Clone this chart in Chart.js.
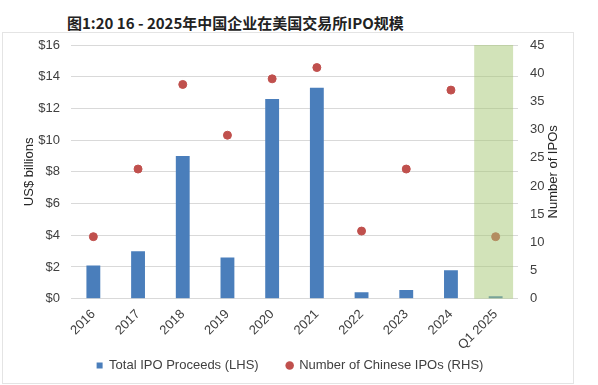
<!DOCTYPE html>
<html>
<head>
<meta charset="utf-8">
<script src="https://cdn.jsdelivr.net/npm/chart.js@4"></script>
<style>
  body { margin: 0; background: #fff; }
  #title { position: absolute; left: 67px; top: 12px; font: bold 15px "Noto Sans CJK SC", serif; color: #222; white-space: nowrap; }
  #frame { position: absolute; left: 2px; top: 32px; width: 570px; height: 350px; border: 1px solid #e4e4e4; }
  #myChart { position: absolute; left: 0; top: 0; }
</style>
</head>
<body>
<div id="title">图1:20 16 - 2025年中国企业在美国交易所IPO规模</div>
<div id="frame"></div>
<canvas id="myChart" width="598" height="385"></canvas>
<script>
var years = ['2016', '2017', '2018', '2019', '2020', '2021', '2022', '2023', '2024', 'Q1 2025']
var proceeds = [2.1, 3.0, 9.0, 2.6, 12.6, 13.3, 0.4, 0.55, 1.8, 0.15]
var ipoCount = [11, 23, 38, 29, 39, 41, 12, 23, 37, 11]
var highlightYear = 'Q1 2025'

var font = { family: 'Liberation Sans, Arial, sans-serif', size: 13 }

// green band behind the latest quarter, drawn over the marks with some alpha
var bandPlugin = {
    id: 'band',
    beforeInit: (chart) => {
        // keep the legend short so the plot gets the height
        var fit = chart.legend.fit
        chart.legend.fit = function () {
            fit.call(this)
            this.height = 30
        }
    },
    afterLayout: (chart) => {
        var lg = chart.legend
        lg.top = 331
        lg.bottom = 385
        lg.height = 54
        lg.left -= 18
        lg.right -= 18
    },
    afterDatasetsDraw: (chart) => {
        var x = chart.scales.x
        var y = chart.scales.y
        var i = years.indexOf(highlightYear)
        var w = (x.getPixelForValue(1) - x.getPixelForValue(0)) * 0.87
        var cx = x.getPixelForValue(i) - 2
        var top = y.getPixelForValue(16)
        var bottom = y.getPixelForValue(0)
        var c = chart.ctx
        c.save()
        c.fillStyle = 'rgba(165, 200, 115, 0.5)'
        c.fillRect(cx - w / 2, top, w, bottom - top)
        // right axis title reads bottom to top
        var y1 = chart.scales.y1
        c.translate(553, (y1.top + y1.bottom) / 2)
        c.rotate(-Math.PI / 2)
        c.font = '13px Liberation Sans, Arial, sans-serif'
        c.fillStyle = '#262626'
        c.textAlign = 'center'
        c.textBaseline = 'middle'
        c.fillText('Number of IPOs', 0, 0)
        c.restore()
    }
}

const ctx = document.getElementById('myChart');
const myChart = new Chart(ctx, {
    data: {
        labels: years,
        datasets: [{
            type: 'scatter',
            label: 'Number of Chinese IPOs (RHS)',
            data: ipoCount,
            yAxisID: 'y1',
            backgroundColor: '#c0504d',
            borderColor: '#c0504d',
            pointRadius: 4,
            pointStyle: 'circle',
            order: 0
        }, {
            type: 'bar',
            label: 'Total IPO Proceeds (LHS)',
            data: proceeds,
            yAxisID: 'y',
            backgroundColor: '#4a7ebb',
            barPercentage: 0.31,
            categoryPercentage: 1,
            order: 1
        }]
    },
    options: {
        responsive: false,
        animation: false,
        layout: { padding: { left: 18, right: 0, top: 45, bottom: 2 } },
        plugins: {
            legend: {
                position: 'bottom',
                reverse: true,
                labels: {
                    font: font,
                    color: '#404040',
                    usePointStyle: true,
                    boxWidth: 6,
                    boxHeight: 6,
                    padding: 28,
                    generateLabels: (chart) => {
                        return chart.data.datasets.map((d, i) => ({
                            text: d.label,
                            fillStyle: d.backgroundColor,
                            strokeStyle: d.backgroundColor,
                            lineWidth: 0,
                            pointStyle: d.type == 'bar' ? 'rect' : 'circle',
                            datasetIndex: i,
                            fontColor: '#404040'
                        }))
                    }
                }
            },
            tooltip: { enabled: false }
        },
        scales: {
            x: {
                type: 'category',
                offset: true,
                grid: { display: false },
                border: { display: false },
                ticks: { font: font, color: '#404040', maxRotation: 45, minRotation: 45, padding: 0 }
            },
            y: {
                position: 'left',
                min: 0,
                max: 16,
                ticks: { stepSize: 2, font: font, color: '#404040', padding: 11, callback: (v) => '$' + v },
                grid: { color: '#d9d9d9', drawTicks: false },
                border: { display: false },
                title: { display: true, text: 'US$ billions', font: font, color: '#262626' },
                afterFit: (s) => { s.width = 53 }
            },
            y1: {
                position: 'right',
                min: 0,
                max: 45,
                ticks: { stepSize: 5, font: font, color: '#404040', padding: 12 },
                grid: { display: false, drawTicks: false },
                border: { display: false },
                afterFit: (s) => { s.width = 80 }
            }
        }
    },
    plugins: [bandPlugin]
});
</script>
</body>
</html>
